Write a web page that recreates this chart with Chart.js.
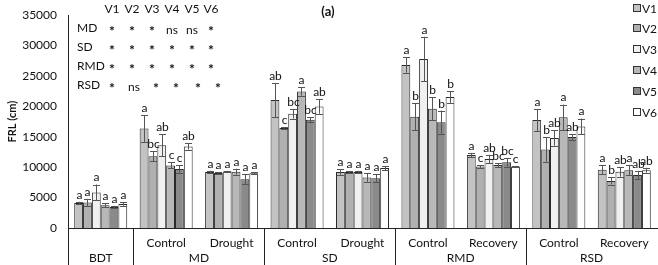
<!DOCTYPE html>
<html>
<head>
<meta charset="utf-8">
<script src="https://cdn.jsdelivr.net/npm/chart.js@4"></script>
<style>
  body { margin: 0; background: #fff; }
  #wrap { width: 658px; height: 265px; position: relative; }
</style>
</head>
<body>
<div id="wrap"><canvas id="chart"></canvas></div>
<script>
// categories (sub label, group label)
const subLabels = ["", "Control", "Drought", "Control", "Drought", "Control", "Recovery", "Control", "Recovery"];
const groups = ["BDT", "MD", "SD", "RMD", "RSD"];
const groupSpans = [[0, 0], [1, 2], [3, 4], [5, 6], [7, 8]];
const seriesNames = ["V1", "V2", "V3", "V4", "V5", "V6"];
const seriesColors = ["#c3c3c3", "#b0b0b0", "#f0f0f0", "#b8b8b8", "#8a8a8a", "#ffffff"];

// FRL means, one array per variety
const v1 = [4100, 16350, 9200, 21050, 9200, 26800, 12000, 17750, 9600];
const v2 = [4200, 11800, 9050, 16450, 9200, 18300, 10100, 12900, 7750];
const v3 = [5850, 13600, 9300, 18800, 9200, 27800, 11350, 14800, 9250];
const v4 = [3750, 10300, 9250, 22450, 8300, 19600, 10350, 18200, 9500];
const v5 = [3450, 9700, 8000, 17800, 8200, 17400, 10800, 14950, 8700];
const v6 = [3950, 13400, 9000, 20000, 9850, 21550, 10100, 16700, 9500];

// error bars (+/-)
const e1 = [200, 2200, 200, 2800, 450, 1250, 350, 1800, 700];
const e2 = [600, 800, 100, 150, 150, 2200, 200, 2000, 600];
const e3 = [1300, 1800, 100, 800, 200, 3650, 700, 1250, 800];
const e4 = [300, 500, 500, 700, 700, 1900, 350, 2100, 800];
const e5 = [200, 600, 800, 400, 600, 1900, 700, 450, 700];
const e6 = [300, 500, 200, 1200, 350, 950, 100, 1300, 400];

// significance letters
const l1 = ["a", "a", "a", "ab", "a", "a", "a", "a", "a"];
const l2 = ["a", "bc", "a", "c", "a", "b", "c", "b", "b"];
const l3 = ["a", "ab", "a", "bc", "a", "a", "ab", "ab", "ab"];
const l4 = ["a", "c", "a", "a", "a", "b", "bc", "a", "a"];
const l5 = ["a", "c", "a", "bc", "a", "b", "bc", "ab", "ab"];
const l6 = ["a", "ab", "a", "ab", "a", "b", "c", "a", "ab"];

// significance table
const tableRows = ["MD", "SD", "RMD", "RSD"];
const tableMD = ["*", "*", "*", "ns", "ns", "*"];
const tableSD = ["*", "*", "*", "*", "*", "*"];
const tableRMD = ["*", "*", "*", "*", "*", "*"];
const tableRSD = ["*", "ns", "*", "*", "*", "*"];

const yTicks = [0, 5000, 10000, 15000, 20000, 25000, 30000, 35000];

const values = [v1, v2, v3, v4, v5, v6];
const errors = [e1, e2, e3, e4, e5, e6];
const letters = [l1, l2, l3, l4, l5, l6];
const tableData = [tableMD, tableSD, tableRMD, tableRSD];

const FONT = "Lato, 'Open Sans', sans-serif";

const extras = {
  id: "extras",
  afterDatasetsDraw(chart) {
    const ctx = chart.ctx;
    const x = chart.scales.x, y = chart.scales.y;
    ctx.save();
    // error bars + letters
    chart.data.datasets.forEach((ds, di) => {
      const meta = chart.getDatasetMeta(di);
      meta.data.forEach((bar, i) => {
        const v = ds.data[i], e = errors[di][i];
        const top = y.getPixelForValue(v + e), bot = y.getPixelForValue(v - e);
        const cx = Math.round(bar.x);
        ctx.strokeStyle = "#555";
        ctx.lineWidth = 1;
        ctx.beginPath();
        ctx.moveTo(cx + 0.5, top); ctx.lineTo(cx + 0.5, bot);
        ctx.moveTo(cx - 3, Math.round(top) + 0.5); ctx.lineTo(cx + 4, Math.round(top) + 0.5);
        ctx.moveTo(cx - 3, Math.round(bot) + 0.5); ctx.lineTo(cx + 4, Math.round(bot) + 0.5);
        ctx.stroke();
        ctx.fillStyle = "#111";
        ctx.font = "12px " + FONT;
        ctx.textAlign = "center";
        ctx.textBaseline = "bottom";
        ctx.fillText(letters[di][i], cx + 0.5, top - 1);
      });
    });

    // x axis labels and separators
    const bottom = y.getPixelForValue(0);
    ctx.strokeStyle = "#222";
    ctx.lineWidth = 1;
    const step = x.getPixelForValue(1) - x.getPixelForValue(0);
    const seps = [x.left];
    groupSpans.forEach(s => seps.push(x.getPixelForValue(s[1]) + step / 2));
    seps.slice(0, 5).forEach(px => {
      ctx.beginPath();
      ctx.moveTo(Math.round(px) + 0.5, bottom);
      ctx.lineTo(Math.round(px) + 0.5, 265);
      ctx.stroke();
    });
    ctx.fillStyle = "#111";
    ctx.font = "12px " + FONT;
    ctx.textAlign = "center";
    ctx.textBaseline = "middle";
    subLabels.forEach((lab, i) => ctx.fillText(lab, x.getPixelForValue(i), 243));
    groups.forEach((g, gi) => {
      const s = groupSpans[gi];
      const c = (x.getPixelForValue(s[0]) + x.getPixelForValue(s[1])) / 2;
      ctx.fillText(g, c, 258);
    });

    // title
    ctx.font = "bold 13px " + FONT;
    ctx.fillText("(a)", 328, 12);

    // significance table
    ctx.font = "12px " + FONT;
    const colX = [112, 132, 152, 172, 192, 211];
    const rowY = [28, 47, 66, 85];
    seriesNames.forEach((n, i) => ctx.fillText(n, colX[i], 9));
    ctx.textAlign = "left";
    tableRows.forEach((r, ri) => ctx.fillText(r, 77, rowY[ri]));
    ctx.textAlign = "center";
    tableData.forEach((row, ri) => {
      row.forEach((s, ci) => {
        const shift = ri === 3 ? [0, 2, 4, 4, 6, 7][ci] : 0;
        if (s === "*") {
          ctx.font = "bold 14px " + FONT;
          ctx.fillText(s, colX[ci] + shift, rowY[ri] + 3);
        } else {
          ctx.font = "12px " + FONT;
          ctx.fillText(s, colX[ci] + shift, rowY[ri] + 2);
        }
      });
    });

    // legend
    const legY = [8, 28, 49, 70, 91, 112];
    seriesNames.forEach((n, i) => {
      ctx.fillStyle = seriesColors[i];
      ctx.fillRect(633, legY[i] - 3, 7, 7);
      ctx.strokeStyle = "#333";
      ctx.strokeRect(633.5, legY[i] - 3.5, 7, 7);
      ctx.fillStyle = "#111";
      ctx.textAlign = "left";
      ctx.font = "12px " + FONT;
      ctx.fillText(n, 642, legY[i] + 1);
    });
    ctx.restore();
  }
};

new Chart(document.getElementById("chart"), {
  type: "bar",
  data: {
    labels: subLabels,
    datasets: values.map((d, i) => ({
      label: seriesNames[i],
      data: d,
      backgroundColor: seriesColors[i],
      borderColor: "#2a2a2a",
      borderWidth: 1,
      barPercentage: 1.0,
      categoryPercentage: 0.81
    }))
  },
  options: {
    responsive: true,
    maintainAspectRatio: false,
    animation: false,
    layout: { padding: { top: 4, right: 1, left: 0, bottom: 0 } },
    plugins: { legend: { display: false }, tooltip: { enabled: false } },
    scales: {
      x: {
        grid: { display: false, drawTicks: false },
        border: { color: "#222" },
        ticks: { display: false },
        afterFit: s => { s.height = 37; }
      },
      y: {
        min: 0,
        max: 35000,
        afterBuildTicks: s => { s.ticks = yTicks.map(v => ({ value: v })); },
        grid: { display: false, drawTicks: true, tickLength: 3 },
        border: { color: "#222" },
        ticks: { color: "#111", font: { family: FONT, size: 12 }, padding: 8, callback: v => String(v) },
        title: { display: true, text: "FRL (cm)", color: "#111", font: { family: FONT, size: 11, weight: "bold" }, padding: { top: 6, bottom: 0 } },
        afterFit: s => { s.width = 68; }
      }
    }
  },
  plugins: [extras]
});
</script>
</body>
</html>
